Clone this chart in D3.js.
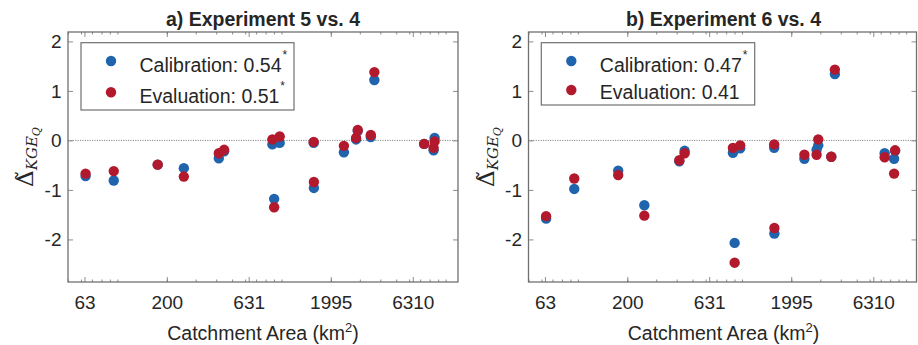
<!DOCTYPE html>
<html><head><meta charset="utf-8">
<script src="https://cdn.jsdelivr.net/npm/d3@7"></script>
<style>
body{margin:0;background:#fff}
svg{display:block}
text{font-family:"Liberation Sans",Arial,Helvetica,sans-serif;fill:#262626}
</style>
</head><body>
<svg id="chart" width="918" height="345"></svg>
<script>
// ---- data ----
const areas   = [64, 95, 176, 254, 415, 447, 880, 975, 902, 1571, 1575, 2400, 2847, 2915, 3500, 3680, 7400, 8570, 8450];
const calib5  = [-0.72, -0.81, -0.49, -0.56, -0.36, -0.22, -0.08, -0.05, -1.18, -0.05, -0.96, -0.24, 0.02, 0.19, 0.07, 1.22, -0.07, 0.05, -0.20];
const eval5   = [-0.67, -0.62, -0.49, -0.73, -0.26, -0.19, 0.02, 0.08, -1.35, -0.03, -0.84, -0.11, 0.05, 0.21, 0.11, 1.38, -0.07, -0.02, -0.15];
const calib6  = [-1.58, -0.98, -0.61, -1.31, -0.42, -0.21, -0.25, -0.16, -2.07, -0.15, -1.88, -0.37, -0.19, -0.10, -0.33, 1.34, -0.26, -0.21, -0.37];
const eval6   = [-1.53, -0.77, -0.70, -1.52, -0.40, -0.26, -0.15, -0.10, -2.47, -0.08, -1.77, -0.29, -0.29, 0.02, -0.33, 1.43, -0.34, -0.20, -0.67];
const xTickValues = [63, 200, 631, 1995, 6310];
const yTickValues = [-2, -1, 0, 1, 2];
const titles = ["a) Experiment 5 vs. 4", "b) Experiment 6 vs. 4"];
const calLabels = ["Calibration: 0.54", "Calibration: 0.47"];
const evLabels  = ["Evaluation: 0.51", "Evaluation: 0.41"];
const calSig = [true, true];
const evSig  = [true, false];
const xDomain = [50, 11900];
const yDomain = [-2.86, 2.19];

// ---- style / layout ----
const BLUE = "#1f64ad", RED = "#b3192d", AXIS = "#707070";
const W = 390, H = 250;
const panelX = [68, 528.5], panelY = 32, boxW = [390, 388];
const legends = [{x:13, y:10.7, w:213, h:67.3, my:[29, 60.3], ty:[39.5, 70.5]},
                 {x:12.8, y:10.7, w:213.4, h:62.3, my:[29, 58], ty:[39.5, 66.5]}];

const svg = d3.select("#chart");
const x = d3.scaleLog().domain(xDomain).range([0, W]);
const y = d3.scaleLinear().domain(yDomain).range([H, 0]);

const minorTicks = [];
for (let p = 1; p <= 4; p++) for (let m = 1; m <= 9; m++) {
  const v = m * Math.pow(10, p);
  if (v >= xDomain[0] && v <= xDomain[1]) minorTicks.push(v);
}

const datasets = [[calib5, eval5], [calib6, eval6]];

datasets.forEach((ds, i) => {
  const g = svg.append("g").attr("transform", `translate(${panelX[i]},${panelY})`);
  const BW = boxW[i];
  const minors = minorTicks.filter(v => x(v) < BW - 1);

  // zero line
  g.append("line").attr("x1", 0).attr("x2", BW).attr("y1", y(0)).attr("y2", y(0))
    .attr("stroke", "#3a3a3a").attr("stroke-width", 0.6).attr("stroke-dasharray", "1.2,1.2");

  // axes (ticks inward) bottom / left
  g.append("g").attr("transform", `translate(0,${H})`)
    .call(d3.axisBottom(x).tickValues(xTickValues).tickFormat(d3.format("d")).tickSizeInner(-5).tickSizeOuter(0).tickPadding(14));
  g.append("g")
    .call(d3.axisLeft(y).tickValues(yTickValues).tickFormat(d => d < 0 ? "-" + Math.abs(d) : d).tickSizeInner(-5).tickSizeOuter(0).tickPadding(6.5));
  // mirror ticks top / right
  g.append("g").call(d3.axisTop(x).tickValues(xTickValues).tickFormat("").tickSizeInner(-5).tickSizeOuter(0));
  g.append("g").attr("transform", `translate(${BW},0)`)
    .call(d3.axisRight(y).tickValues(yTickValues).tickFormat("").tickSizeInner(-5).tickSizeOuter(0));
  // minor ticks
  g.append("g").attr("transform", `translate(0,${H})`)
    .call(d3.axisBottom(x).tickValues(minors).tickFormat("").tickSizeInner(-2.5).tickSizeOuter(0));
  g.append("g").call(d3.axisTop(x).tickValues(minors).tickFormat("").tickSizeInner(-2.5).tickSizeOuter(0));

  g.selectAll(".domain").remove();
  g.selectAll(".tick line").attr("stroke", AXIS).attr("stroke-width", 0.8);
  g.selectAll(".tick text").attr("font-size", 19).attr("fill", "#262626")
    .style("font-family", '"Liberation Sans",Arial,sans-serif');

  // box
  g.append("rect").attr("x", 0).attr("y", 0).attr("width", BW).attr("height", H)
    .attr("fill", "none").attr("stroke", AXIS).attr("stroke-width", 1.3);

  // points: calibration first, evaluation on top
  g.append("g").selectAll("circle").data(areas.map((a, k) => [a, ds[0][k]])).join("circle")
    .attr("cx", d => x(d[0])).attr("cy", d => y(d[1])).attr("r", 5.2).attr("fill", BLUE);
  g.append("g").selectAll("circle").data(areas.map((a, k) => [a, ds[1][k]])).join("circle")
    .attr("cx", d => x(d[0])).attr("cy", d => y(d[1])).attr("r", 5.2).attr("fill", RED);

  // title
  g.append("text").attr("x", 195).attr("y", -6).attr("text-anchor", "middle")
    .attr("font-size", 19.5).attr("font-weight", "bold").attr("fill", "#000").text(titles[i]);

  // x label
  const xl = g.append("text").attr("x", 195).attr("y", 308).attr("text-anchor", "middle")
    .attr("font-size", 19.5);
  xl.append("tspan").text("Catchment Area (km");
  xl.append("tspan").attr("font-size", 13).attr("dy", -8).text("2");
  xl.append("tspan").attr("dy", 8).text(")");

  // y label
  const yl = g.append("text").attr("transform", `translate(-35,${H / 2}) rotate(-90)`)
    .attr("text-anchor", "middle").style("font-family", '"DejaVu Serif","Liberation Serif",serif');
  yl.append("tspan").attr("font-size", 23).text("\u0394\u0303");
  yl.append("tspan").attr("font-size", 15).attr("font-style", "italic").attr("dy", 4).text("KGE");
  yl.append("tspan").attr("font-size", 11).attr("font-style", "italic").attr("dy", 3).text("Q");

  // legend
  const L = legends[i];
  g.append("rect").attr("x", L.x).attr("y", L.y).attr("width", L.w).attr("height", L.h)
    .attr("fill", "#fff").attr("stroke", AXIS).attr("stroke-width", 1.2);
  g.append("circle").attr("cx", L.x + 30).attr("cy", L.my[0]).attr("r", 5.2).attr("fill", BLUE);
  g.append("circle").attr("cx", L.x + 30).attr("cy", L.my[1]).attr("r", 5.2).attr("fill", RED);
  const t1 = g.append("text").attr("x", L.x + 58.5).attr("y", L.ty[0]).attr("font-size", 19.5);
  t1.append("tspan").text(calLabels[i]);
  if (calSig[i]) t1.append("tspan").attr("font-size", 12).attr("dy", -13).attr("dx", 1).text("*");
  const t2 = g.append("text").attr("x", L.x + 58.5).attr("y", L.ty[1]).attr("font-size", 19.5);
  t2.append("tspan").text(evLabels[i]);
  if (evSig[i]) t2.append("tspan").attr("font-size", 12).attr("dy", -13).attr("dx", 1).text("*");
});
</script>
</body></html>
